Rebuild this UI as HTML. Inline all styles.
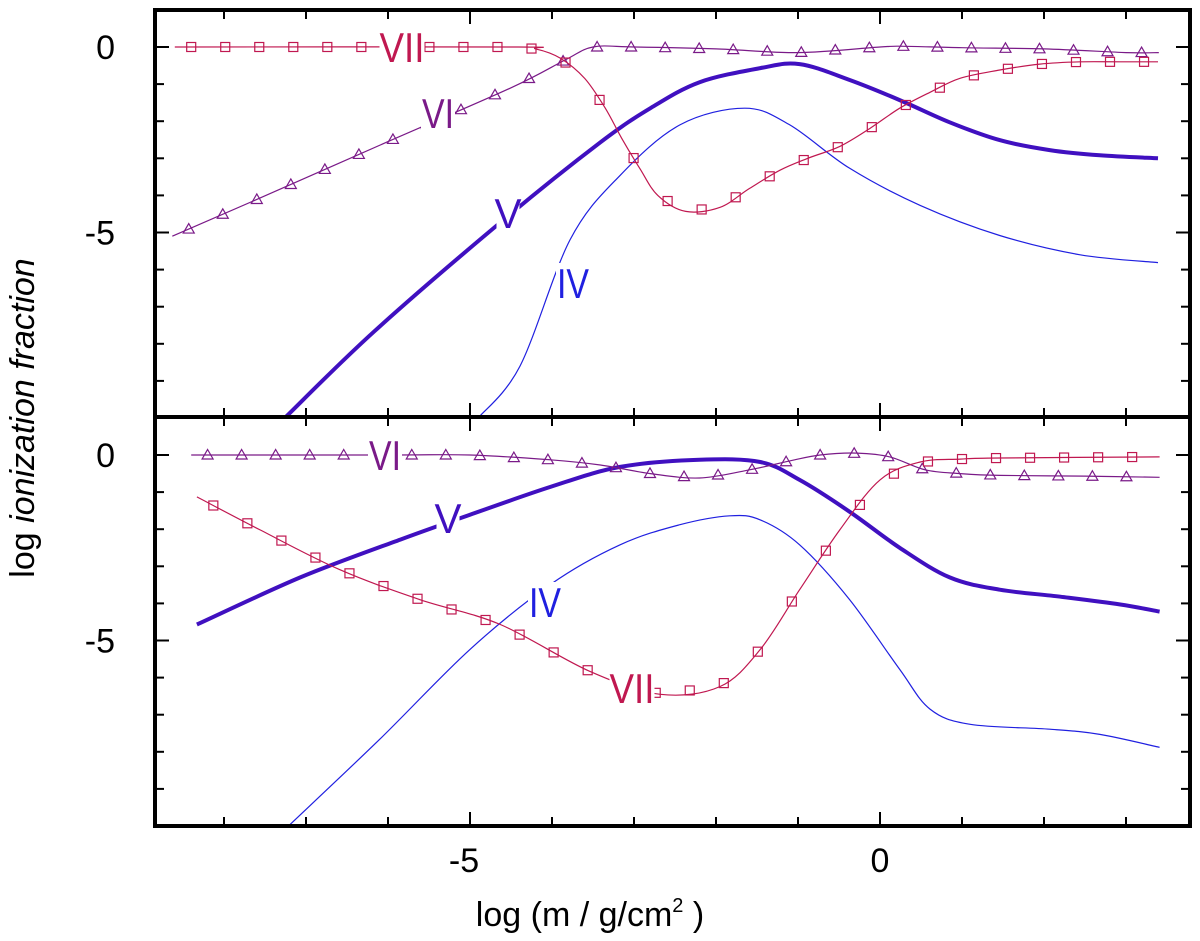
<!DOCTYPE html>
<html><head><meta charset="utf-8">
<style>
body{margin:0;background:#fff;}
svg{display:block;font-family:"Liberation Sans",sans-serif;}
</style></head>
<body>
<svg id="chart" width="1200" height="941" viewBox="0 0 1200 941"></svg>
<script>
// ---- data ----
const xTicks = [-5, 0];
const yTicks = [0, -5];
const topVII_x = [-8.6,-4.5,-4.2,-3.9,-3.6,-3.35,-3.15,-2.93,-2.71,-2.37,-1.95,-1.59,-1.22,-0.88,-0.49,-0.12,0.24,0.61,0.98,1.46,1.95,2.44,2.93,3.39];
const topVII_y = [0,0,-0.05,-0.3,-0.85,-1.65,-2.46,-3.27,-4.0,-4.43,-4.32,-3.81,-3.32,-3.0,-2.68,-2.19,-1.65,-1.22,-0.84,-0.62,-0.46,-0.4,-0.4,-0.4];
const topVI_x = [-8.63,-7.59,-6.0,-4.5,-3.84,-3.5,-3,-2,-1,0,0.3,1,2,3,3.4];
const topVI_y = [-5.1,-4.1,-2.55,-1.1,-0.35,0,0,-0.05,-0.15,0,0.02,-0.02,-0.05,-0.15,-0.15];
const topV_x = [-7.26,-6.16,-4.57,-3.41,-2.8,-2.2,-1.46,-0.98,-0.37,0.24,0.85,1.46,2.07,2.68,3.39];
const topV_y = [-10,-7.65,-4.62,-2.57,-1.65,-0.95,-0.57,-0.46,-0.89,-1.43,-2.03,-2.51,-2.78,-2.92,-3.0];
const topIV_x = [-4.9,-4.39,-3.78,-3.17,-2.44,-1.65,-1.1,-0.37,0.49,1.46,2.44,3.39];
const topIV_y = [-10,-8.6,-5.2,-3.46,-2.1,-1.65,-2.1,-3.27,-4.27,-5.08,-5.6,-5.81];
const botVI_x = [-8.4,-6,-5,-4.02,-3.41,-2.8,-2.2,-1.59,-1.1,-0.73,-0.28,0.12,0.55,0.98,1.46,2.5,3.41];
const botVI_y = [0,0,0,-0.13,-0.27,-0.5,-0.62,-0.4,-0.16,0,0.05,-0.05,-0.4,-0.5,-0.55,-0.57,-0.6];
const botV_x = [-8.33,-7.07,-5.85,-5.0,-4.02,-3.17,-2.2,-1.46,-0.98,-0.37,0.24,0.85,1.46,2.2,2.93,3.41];
const botV_y = [-4.57,-3.3,-2.28,-1.61,-0.86,-0.32,-0.13,-0.19,-0.67,-1.53,-2.5,-3.3,-3.63,-3.82,-4.03,-4.22];
const botIV_x = [-7.2,-6.1,-5.0,-4.02,-3.17,-2.44,-1.83,-1.46,-0.98,-0.37,0.24,0.61,1.1,2.07,2.68,3.41];
const botIV_y = [-9.97,-7.66,-5.24,-3.49,-2.42,-1.88,-1.64,-1.75,-2.42,-3.9,-5.78,-6.85,-7.26,-7.39,-7.53,-7.88];
const botVII_x = [-8.33,-7.56,-6.59,-5.61,-4.63,-3.54,-2.68,-1.95,-1.46,-0.98,-0.49,0,0.49,0.98,1.46,3.41];
const botVII_y = [-1.13,-2.02,-3.09,-3.9,-4.57,-5.83,-6.45,-6.24,-5.24,-3.63,-2.02,-0.67,-0.19,-0.11,-0.08,-0.05];

// ---- geometry ----
const L=155,R=1190,panels=[{top:10,bot:417,y0:47},{top:417,bot:826,y0:455}];
const PX=82, PY=37.1;
const sx=v=>880+v*PX;
const NS='http://www.w3.org/2000/svg';
const svg=document.getElementById('chart');
function mk(tag,attrs,parent){const e=document.createElementNS(NS,tag);for(const k in attrs)e.setAttribute(k,attrs[k]);(parent||svg).appendChild(e);return e;}

function smoothPath(pts){
  let d='M'+pts[0][0].toFixed(1)+','+pts[0][1].toFixed(1);
  for(let i=0;i<pts.length-1;i++){
    const p0=pts[Math.max(0,i-1)],p1=pts[i],p2=pts[i+1],p3=pts[Math.min(pts.length-1,i+2)];
    const c1=[p1[0]+(p2[0]-p0[0])/6,p1[1]+(p2[1]-p0[1])/6];
    const c2=[p2[0]-(p3[0]-p1[0])/6,p2[1]-(p3[1]-p1[1])/6];
    d+=`C${c1[0].toFixed(1)},${c1[1].toFixed(1)} ${c2[0].toFixed(1)},${c2[1].toFixed(1)} ${p2[0].toFixed(1)},${p2[1].toFixed(1)}`;
  }
  return d;
}
function interp(xs,ys,x){for(let i=0;i<xs.length-1;i++){if(x>=xs[i]&&x<=xs[i+1]){const t=(x-xs[i])/(xs[i+1]-xs[i]);return ys[i]+t*(ys[i+1]-ys[i]);}}return null;}

const clipDefs=mk('defs',{});
panels.forEach((p,i)=>{const c=mk('clipPath',{id:'clip'+i},clipDefs);mk('rect',{x:L,y:p.top,width:R-L,height:p.bot-p.top},c);});

function series(panelIdx,xs,ys,color,width,name,marker){
  const p=panels[panelIdx];const sy=v=>p.y0-v*PY;
  const g=mk('g',{'clip-path':`url(#clip${panelIdx})`});
  
  
  const pts=xs.map((x,i)=>[sx(x),sy(ys[i])]);
  const path=mk('path',{d:smoothPath(pts),fill:'none',stroke:color,'stroke-width':width,'stroke-linejoin':'round'},g);
  
  
  if(marker){
    for(let x=xs[0]+0.2;x<=xs[xs.length-1];x+=0.415){
      const y=interp(xs,ys,x);const cx=sx(x),cy=sy(y);
      let m;
      if(marker==='square') m=mk('rect',{x:cx-4.5,y:cy-4.5,width:9,height:9,fill:'none',stroke:color,'stroke-width':1.2},g);
      else m=mk('path',{d:`M${cx},${cy-5.5}L${cx+5.5},${cy+4}L${cx-5.5},${cy+4}Z`,fill:'none',stroke:color,'stroke-width':1.2},g);
      
      
    }
  }
}
const cVII='#c01850',cVI='#7a1a88',cV='#4010c0',cIV='#2020e0';
series(0,topIV_x,topIV_y,cIV,1.2,'top-ion-iv');
series(0,topV_x,topV_y,cV,4,'top-ion-v');
series(0,topVI_x,topVI_y,cVI,1.2,'top-ion-vi','tri');
series(0,topVII_x,topVII_y,cVII,1.2,'top-ion-vii','square');
series(1,botIV_x,botIV_y,cIV,1.2,'bottom-ion-iv');
series(1,botV_x,botV_y,cV,4,'bottom-ion-v');
series(1,botVI_x,botVI_y,cVI,1.2,'bottom-ion-vi','tri');
series(1,botVII_x,botVII_y,cVII,1.2,'bottom-ion-vii','square');

function label(x,y,txt,color,name){
  const w=txt.length*11+12;
  const bg=mk('rect',{x:x-w/2,y:y-20,width:w,height:40,fill:'#fff'});
  
  
  const t=mk('text',{x:x,y:y+15,'text-anchor':'middle','font-size':42,fill:color,textLength:txt.length*13+ (txt==='V'?14:6),lengthAdjust:'spacingAndGlyphs'});
  t.textContent=txt;
  
  
}
label(402,47,'VII',cVII,'top-label-vii');
label(438,113,'VI',cVI,'top-label-vi');
label(508,213,'V',cV,'top-label-v');
label(573,283,'IV',cIV,'top-label-iv');
label(385,455,'VI',cVI,'bottom-label-vi');
label(448,518,'V',cV,'bottom-label-v');
label(545,602,'IV',cIV,'bottom-label-iv');
label(632,688,'VII',cVII,'bottom-label-vii');

// axes and ticks
panels.forEach((p,i)=>{
  const sy=v=>p.y0-v*PY;
  for(let v=-8;v<=3;v++){
    const x=sx(v);const len=(v%5===0)?14:9;
    mk('line',{x1:x,y1:p.top,x2:x,y2:p.top+len,stroke:'#000','stroke-width':2});
    mk('line',{x1:x,y1:p.bot,x2:x,y2:p.bot-len,stroke:'#000','stroke-width':2});
  }
  for(let v=0;v>=-9;v--){
    const y=sy(v);const len=(v%5===0)?14:9;
    mk('line',{x1:L,y1:y,x2:L+len,y2:y,stroke:'#000','stroke-width':2});
    mk('line',{x1:R,y1:y,x2:R-len,y2:y,stroke:'#000','stroke-width':2});
  }
  yTicks.forEach(v=>{const t=mk('text',{x:115,y:sy(v)+12,'text-anchor':'end','font-size':34});t.textContent=String(v);
    
    });
});
const frame=mk('rect',{x:L,y:10,width:R-L,height:816,fill:'none',stroke:'#000','stroke-width':4});


const div=mk('line',{x1:L,y1:417,x2:R,y2:417,stroke:'#000','stroke-width':4});


xTicks.forEach(v=>{const t=mk('text',{x:sx(v)-(v<0?6:0),y:872,'text-anchor':'middle','font-size':34});t.textContent=String(v);
  
  });
const xt=mk('text',{x:590,y:926,'text-anchor':'middle','font-size':34});
xt.innerHTML='log (m / g/cm<tspan dy="-14" font-size="20">2</tspan><tspan dy="14"> )</tspan>';


const yt=mk('text',{x:0,y:0,'text-anchor':'middle','font-size':34,transform:'translate(34,418) rotate(-90)'});
yt.innerHTML='log <tspan font-style="italic">ionization fraction</tspan>';


</script>
</body></html>
